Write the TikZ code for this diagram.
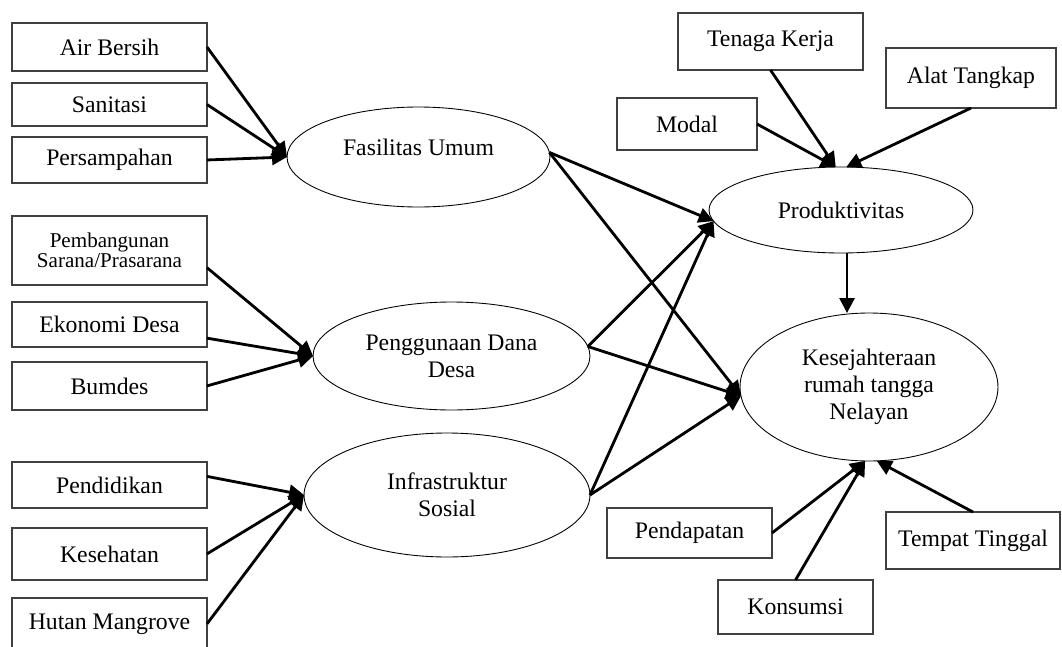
\documentclass[tikz,border=0pt]{standalone}
\usepackage{fontspec}
\setmainfont{Liberation Serif}
\usepackage{tikz}
\usetikzlibrary{shapes.geometric, arrows.meta, positioning}
\tikzset{
    indbox/.style={rectangle, draw=black!75, line width=0.7pt, inner sep=0pt, outer sep=0pt, minimum width=39mm, align=center, font=\fontsize{13.5}{15.5}\selectfont},
    varoval/.style={ellipse, draw=black, line width=0.5pt, inner sep=0pt, outer sep=0pt, align=center, font=\fontsize{13.5}{15.5}\selectfont},
    linkarrow/.style={-{Triangle[length=8.5pt, width=8.5pt]}, line width=1.6pt}
}

\begin{document}
\begin{tikzpicture}[x=0.02cm, y=-0.02cm]

\useasboundingbox (0,0) rectangle (1062,646);
\clip (0,0) rectangle (1062,646);

% left column of indicators
\node[indbox, minimum height=9.6mm] (airb) at (109.5,47) {Air Bersih};
\node[indbox, minimum height=8.6mm, below=2.4mm of airb] (sanit) {Sanitasi};
\node[indbox, minimum height=9.2mm, below=2.2mm of sanit] (sampah) {Persampahan};
\node[indbox, minimum height=13.8mm, below=6.6mm of sampah, font=\fontsize{12}{11.5}\selectfont] (bangun) {Pembangunan\\Sarana/Prasarana};
\node[indbox, minimum height=9mm, below=3.4mm of bangun] (ekodesa) {Ekonomi Desa};
\node[indbox, minimum height=9.6mm, below=3mm of ekodesa] (bumdes) {Bumdes};
\node[indbox, minimum height=9.2mm, below=10.4mm of bumdes] (didik) {Pendidikan};
\node[indbox, minimum height=10.4mm, below=4mm of didik] (sehat) {Kesehatan};
\node[indbox, minimum height=10.4mm, below=3.6mm of sehat] (mangrove) {Hutan Mangrove};

% latent variables
\node[varoval, minimum width=52.6mm, minimum height=20mm, label={[font=\fontsize{13.5}{15.5}\selectfont, yshift=5.7pt]center:Fasilitas Umum}] (fasum) at (418.5,157) {};
\node[varoval, minimum width=55.4mm, minimum height=21.6mm] (danadesa) at (451.5,356) {Penggunaan Dana\\Desa};
\node[varoval, minimum width=57.2mm, minimum height=24.8mm] (infsos) at (447,495) {Infrastruktur\\Sosial};
\node[varoval, minimum width=52.8mm, minimum height=17.2mm] (prod) at (841,210) {Produktivitas};
\node[varoval, minimum width=51.6mm, minimum height=29.6mm] (kesra) at (869,387) {Kesejahteraan\\rumah tangga\\Nelayan};

% right indicators
\node[indbox, minimum width=37mm, minimum height=11.4mm] (tenaga) at (770.5,41.5) {Tenaga Kerja};
\node[indbox, minimum width=34mm, minimum height=12mm] (alat) at (971,78) {Alat Tangkap};
\node[indbox, minimum width=28mm, minimum height=10.4mm] (modal) at (687,124) {Modal};
\node[indbox, minimum width=33mm, minimum height=10mm] (dapat) at (689.5,533) {Pendapatan};
\node[indbox, minimum width=31mm, minimum height=10.8mm] (konsumsi) at (795.5,607) {Konsumsi};
\node[indbox, minimum width=34.8mm, minimum height=11.4mm] (tinggal) at (973,540.5) {Tempat Tinggal};

\draw[linkarrow] (airb.east) -- (fasum.west);
\draw[linkarrow] (sanit.east) -- (fasum.west);
\draw[linkarrow] (sampah.east) -- (fasum.west);
\draw[linkarrow] (bangun.-10) -- (danadesa.west);
\draw[linkarrow] (ekodesa.-8) -- (danadesa.west);
\draw[linkarrow] (bumdes.east) -- (danadesa.west);
\draw[linkarrow] (didik.5) -- (infsos.west);
\draw[linkarrow] (sehat.east) -- (infsos.west);
\draw[linkarrow] (mangrove.east) -- (infsos.west);

\draw[linkarrow] (fasum.2) -- (prod.185);
\draw[linkarrow] (fasum.2) -- (kesra.184);
\draw[linkarrow] (danadesa.4) -- (prod.185);
\draw[linkarrow] (danadesa.4) -- (kesra.184);
\draw[linkarrow] (infsos.east) -- (prod.185);
\draw[linkarrow] (infsos.east) -- (kesra.184);

\draw[linkarrow] (modal.east) -- (prod.97);
\draw[linkarrow] (tenaga.south) -- (prod.97);
\draw[linkarrow] (alat.south) -- (prod.83);
\draw[linkarrow] (prod.-82) -- (prod.-82 |- kesra.north);

\draw[linkarrow] (dapat.east) -- (kesra.-93);
\draw[linkarrow] (konsumsi.north) -- (kesra.-93);
\draw[linkarrow] (tinggal.north) -- (kesra.-84);

\end{tikzpicture}
\end{document}
